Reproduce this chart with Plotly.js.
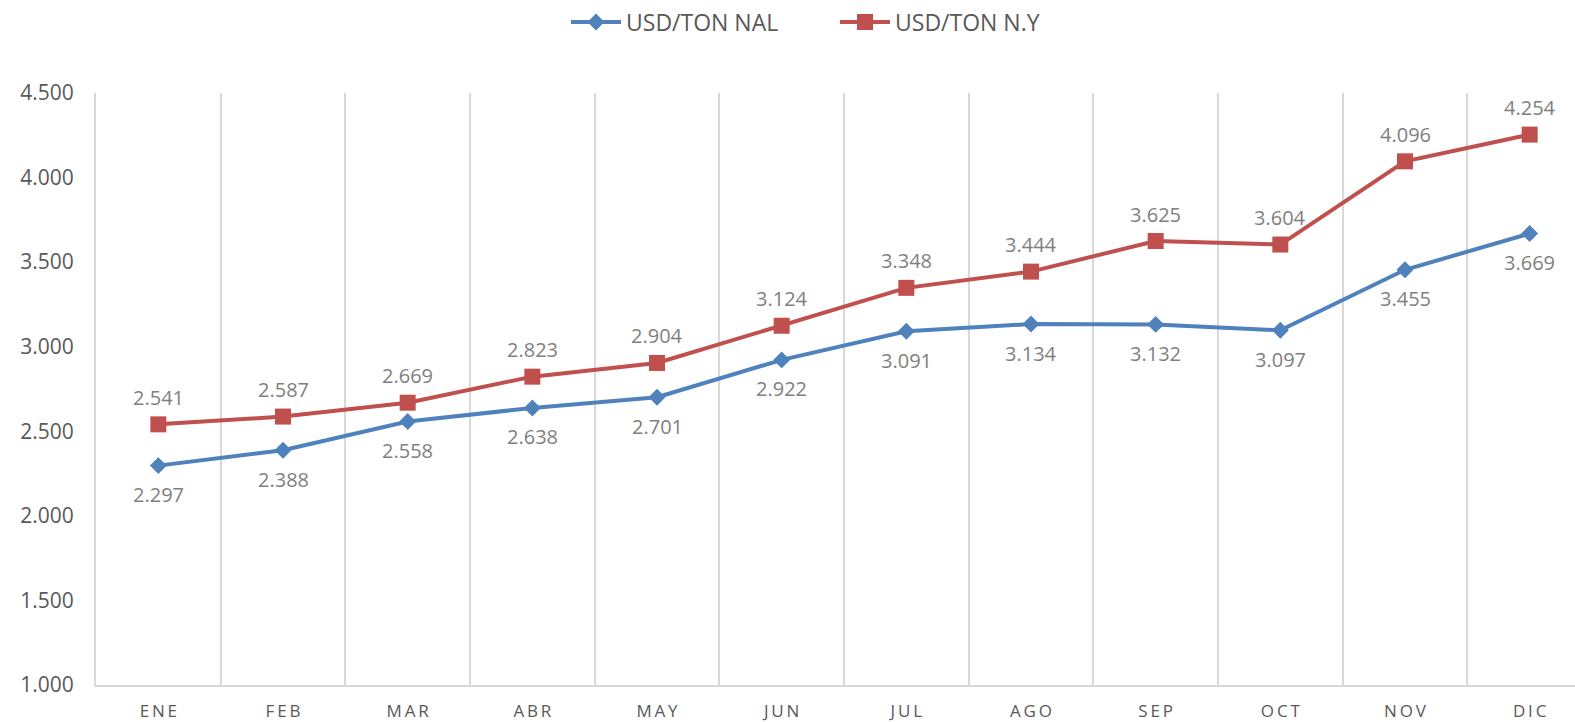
<!DOCTYPE html>
<html>
<head>
<meta charset="utf-8">
<script src="https://cdn.plot.ly/plotly-3.0.1.min.js"></script>
<style>
html, body { margin: 0; padding: 0; overflow: hidden; background: #fff; }
#chart { width: 1600px; height: 722px; }
</style>
</head>
<body>
<div id="chart"></div>
<script>
const months = ["ENE", "FEB", "MAR", "ABR", "MAY", "JUN", "JUL", "AGO", "SEP", "OCT", "NOV", "DIC"];
const usdTonNal = [2297, 2388, 2558, 2638, 2701, 2922, 3091, 3134, 3132, 3097, 3455, 3669];
const usdTonNY = [2541, 2587, 2669, 2823, 2904, 3124, 3348, 3444, 3625, 3604, 4096, 4254];
const seriesNames = ["USD/TON NAL", "USD/TON N.Y"];
const yTickVals = [1000, 1500, 2000, 2500, 3000, 3500, 4000, 4500];

function fmt(v) {
  return String(Math.round(v)).replace(/\B(?=(\d{3})+(?!\d))/g, ".");
}
function spaced(s) { return s.split("").join("\u2009"); }

const FONT = "'Open Sans', 'Noto Sans', sans-serif";
const BLUE = "#4F81BD";
const RED = "#C0504D";

const traces = [
  {
    x: months, y: usdTonNal, name: seriesNames[0], type: "scatter", mode: "lines+markers",
    line: { color: BLUE, width: 4 },
    marker: { symbol: "diamond", size: 13, color: BLUE }
  },
  {
    x: months, y: usdTonNY, name: seriesNames[1], type: "scatter", mode: "lines+markers",
    line: { color: RED, width: 4 },
    marker: { symbol: "square", size: 16, color: RED }
  }
];

const annotations = [];
months.forEach((m, i) => {
  annotations.push({ x: m, y: usdTonNal[i], text: fmt(usdTonNal[i]), showarrow: false,
    yshift: -29, font: { family: FONT, size: 20, color: "#7F7F7F" } });
  annotations.push({ x: m, y: usdTonNY[i], text: fmt(usdTonNY[i]), showarrow: false,
    yshift: 27, font: { family: FONT, size: 20, color: "#7F7F7F" } });
});

const layout = {
  width: 1600, height: 722,
  margin: { l: 96, r: 8, t: 93, b: 37 },
  paper_bgcolor: "#fff", plot_bgcolor: "#fff",
  font: { family: FONT, color: "#595959" },
  showlegend: true,
  legend: {
    orientation: "h", xref: "container", yref: "container",
    x: 566 / 1600, xanchor: "left", y: 1 - 22 / 722, yanchor: "middle",
    font: { family: FONT, size: 23, color: "#595959" },
    traceorder: "normal", itemwidth: 50,
    entrywidth: 204, entrywidthmode: "pixels"
  },
  xaxis: {
    type: "category", tickmode: "array", tickvals: months, ticktext: months.map(spaced),
    range: [-0.5, 11.5], tickson: "boundaries", ticks: "",
    showgrid: true, gridcolor: "#D9D9D9", gridwidth: 2,
    showline: true, linecolor: "#D9D9D9", linewidth: 2,
    tickfont: { family: FONT, size: 17, color: "#595959" },
    ticklabelstandoff: 10, fixedrange: true
  },
  yaxis: {
    range: [1000, 4500], tickmode: "array", tickvals: yTickVals, ticktext: yTickVals.map(fmt),
    showgrid: false, zeroline: false, ticks: "",
    showline: true, linecolor: "#D9D9D9", linewidth: 2,
    tickfont: { family: FONT, size: 21, color: "#595959" },
    ticklabelstandoff: 16, fixedrange: true
  },
  annotations: annotations
};

Plotly.newPlot("chart", traces, layout, { displayModeBar: false, staticPlot: true });
</script>
</body>
</html>
